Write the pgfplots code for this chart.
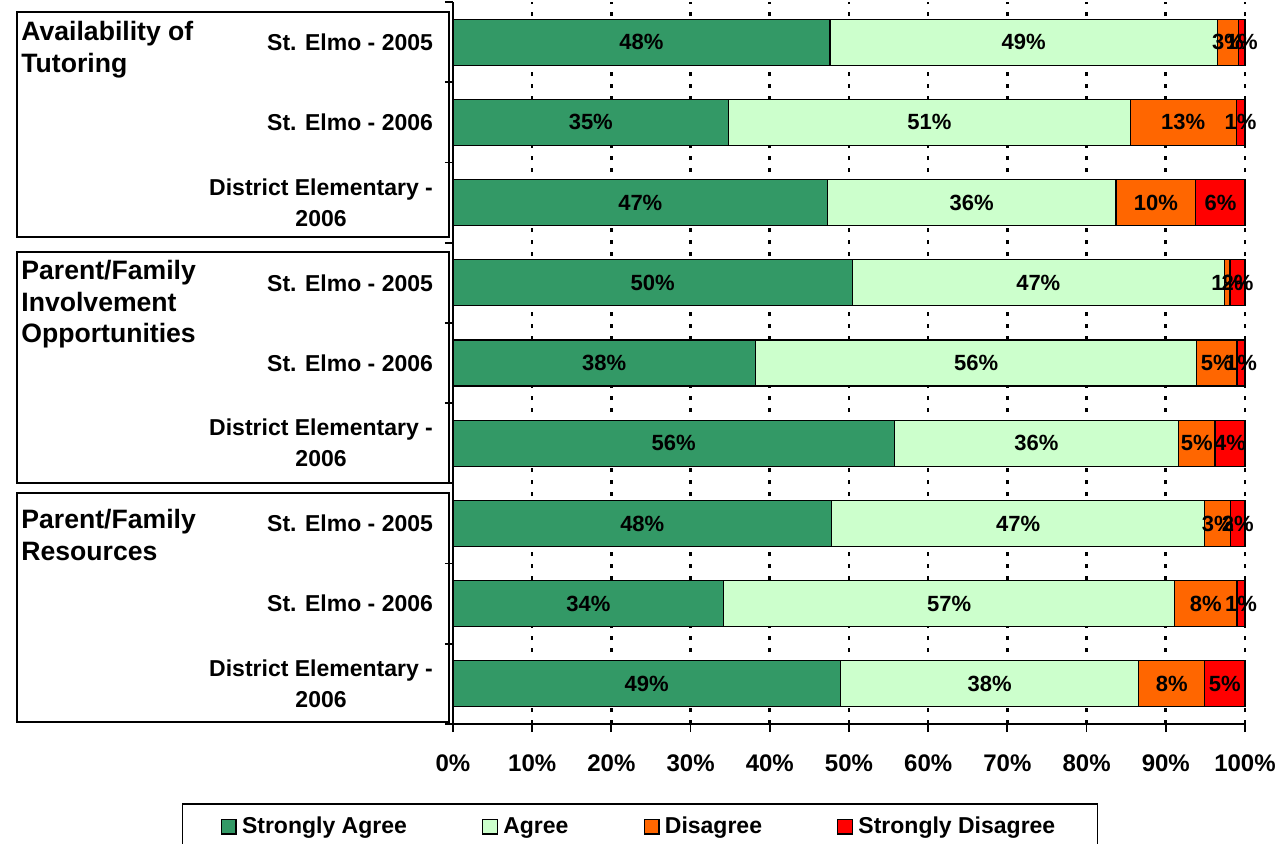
\documentclass[border=0pt]{standalone}
\usepackage{fontspec}
\setmainfont{Liberation Sans}
\usepackage{pgfplots}
\usepackage{pgfplotstable}
\pgfplotsset{compat=1.18}
\definecolor{sagr}{RGB}{51,153,102}
\definecolor{agr}{RGB}{204,255,204}
\definecolor{dis}{RGB}{255,102,0}
\definecolor{sdis}{RGB}{255,0,0}

\pgfplotstableread{
y sa a d sd
9 47.6 48.9 2.7 0.8
8 34.8 50.7 13.4 1.1
7 47.3 36.4 10.1 6.2
6 50.4 47.0 0.7 1.9
5 38.2 55.7 5.1 1.0
4 55.7 35.9 4.6 3.8
3 47.8 47.1 3.3 1.8
2 34.2 56.9 7.9 1.0
1 48.9 37.7 8.3 5.1
}\data

\pgfplotsset{
  seg/.style={
    fill=#1, draw=black, line width=0.6pt,
    legend image code/.code={\draw[fill=#1,draw=black,line width=0.6pt] (0pt,-3.7pt) rectangle (7.4pt,3.7pt);
      \path[draw=none,fill=none] (0pt,0pt) -- (8.4pt,0pt);},
  },
}

\begin{document}
\begin{tikzpicture}
\path[use as bounding box] (-226.5pt,-59.5pt) rectangle (417pt,362pt);
\begin{axis}[
  at={(0pt,0pt)}, anchor=south west,
  scale only axis, width=396pt, height=361pt,
  xbar stacked, bar width=23pt,
  xmin=0, xmax=100, ymin=0.5, ymax=9.5, enlargelimits=false,
  clip=false,
  axis x line=bottom, axis y line=left,
  axis line style={black, line width=0.9pt, -},
  tick align=outside, major tick length=4pt,
  tick style={black, line width=0.9pt},
  xtick={0,10,...,100},
  xticklabel={\pgfmathprintnumber{\tick}\%},
  /pgf/number format/assume math mode=true,
  xticklabel style={font=\bfseries\fontsize{12}{14}\selectfont, yshift=-8pt},
  xmajorgrids,
  major grid style={black, line width=1.3pt, dash pattern=on 2pt off 4pt},
  ytick={0.5,1.5,...,9.5},
  y tick label as interval,
  yticklabels={{District Elementary -\\2006},{St. Elmo - 2006},{St. Elmo - 2005},
               {District Elementary -\\2006},{St. Elmo - 2006},{St. Elmo - 2005},
               {District Elementary -\\2006},{St. Elmo - 2006},{St. Elmo - 2005}},
  yticklabel style={font=\bfseries\fontsize{11.5}{15.5}\selectfont, align=center, xshift=-2.5pt},
  point meta=explicit symbolic,
  nodes near coords={\pgfmathprintnumber[fixed,precision=0]{\pgfplotspointmeta}\%},
  every node near coord/.append style={anchor=center,
     font=\bfseries\fontsize{11}{13}\selectfont, text=black},
  legend columns=4,
  legend style={at={(0.2361,-0.1094)}, anchor=north, draw=black, line width=0.8pt,
     font=\bfseries\fontsize{11.5}{13}\selectfont, inner xsep=19pt, inner ysep=4.5pt,
     /tikz/every even column/.append style={column sep=35.5pt}},
  legend cell align=left,
]
\addplot[seg=sagr] table[x=sa,y=y,meta=sa]{\data};
\addplot[seg=agr] table[x=a,y=y,meta=a]{\data};
\addplot[seg=dis] table[x=d,y=y,meta=d]{\data};
\addplot[seg=sdis] table[x=sd,y=y,meta=sd]{\data};
\legend{Strongly Agree, Agree, Disagree, Strongly Disagree}
\end{axis}
\draw[line width=1.4pt] (-218pt,243.5pt) rectangle (-2pt,356pt);
\draw[line width=1.4pt] (-218pt,120.5pt) rectangle (-2pt,236pt);
\draw[line width=1.4pt] (-218pt,1pt) rectangle (-2pt,115.5pt);
\begin{scope}[every node/.style={anchor=north west, inner sep=0pt, align=left,
    font=\bfseries\fontsize{13.3}{15.7}\selectfont}]
\node at (-216pt,351.5pt) {Availability of\\Tutoring};
\node at (-216pt,232pt) {Parent/Family\\Involvement\\Opportunities};
\node at (-216pt,107.5pt) {Parent/Family\\Resources};
\end{scope}
\end{tikzpicture}
\end{document}
